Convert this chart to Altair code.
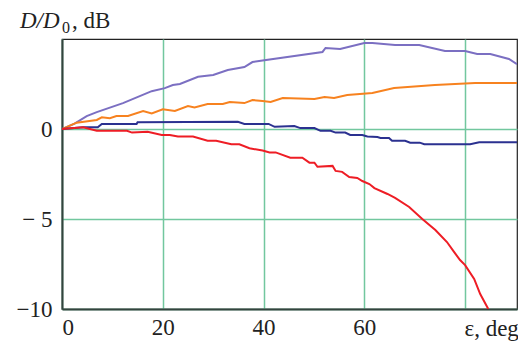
import altair as alt
import pandas as pd

purple_x = [0, 2.5, 4.9, 6.9, 12.1, 17.8, 20.4, 22, 23.4, 27, 30, 32.9, 36.2, 37.8, 39.8, 51.7, 52.3, 55.2, 60, 61.6, 66.1, 70.9, 76, 80, 82.4, 85, 88.7, 90.3]
purple_y = [0, 0.3, 0.72, 0.94, 1.44, 2.1, 2.27, 2.44, 2.5, 2.9, 3.0, 3.28, 3.44, 3.72, 3.8, 4.28, 4.5, 4.44, 4.78, 4.78, 4.67, 4.67, 4.33, 4.33, 4.17, 4.17, 3.89, 3.6]

orange_x = [0, 2.9, 6.9, 7.9, 9.5, 10.8, 13.1, 16.1, 17.8, 20, 22.4, 25, 26.3, 28.9, 31.9, 33.3, 36.2, 37.8, 39.8, 41.4, 43.8, 50.1, 52.1, 54, 56.6, 61.6, 65.9, 74, 82, 90.3]
orange_y = [0, 0.35, 0.5, 0.65, 0.6, 0.72, 0.72, 1.0, 0.87, 1.1, 1.0, 1.28, 1.2, 1.39, 1.39, 1.5, 1.44, 1.61, 1.56, 1.5, 1.72, 1.67, 1.78, 1.72, 1.89, 2.0, 2.28, 2.44, 2.55, 2.55]

navy_x = [0, 4.2, 7.1, 7.9, 14.8, 15, 34.9, 36.2, 41, 42.2, 46.1, 47.3, 50.1, 51.3, 53.3, 54.3, 56.2, 57.2, 59.6, 60.6, 62.6, 63.2, 64.9, 65.5, 68.1, 69.1, 71, 71.9, 81, 82.8, 90.3]
navy_y = [0, 0.1, 0.1, 0.28, 0.28, 0.38, 0.4, 0.28, 0.28, 0.12, 0.17, 0.05, 0.05, -0.1, -0.1, -0.2, -0.2, -0.33, -0.33, -0.42, -0.45, -0.5, -0.5, -0.65, -0.65, -0.76, -0.76, -0.85, -0.85, -0.74, -0.74]

red_x = [0, 4.2, 6.9, 12.9, 13.9, 17, 19.8, 21.4, 23, 26, 28.9, 30.6, 33.6, 35.2, 37.2, 39.8, 41.2, 42.4, 45.3, 47.7, 49.1, 50.1, 50.7, 53.7, 54.3, 55.6, 57, 58.6, 59.6, 61, 62, 64.6, 66.1, 68.9, 71.5, 74.1, 76.4, 77.8, 79, 80, 81.8, 83, 84.6]
red_y = [0, 0.1, -0.1, -0.1, -0.2, -0.15, -0.33, -0.33, -0.42, -0.42, -0.65, -0.65, -0.85, -0.85, -1.07, -1.2, -1.3, -1.3, -1.6, -1.6, -1.87, -1.87, -2.1, -2.05, -2.33, -2.38, -2.67, -2.72, -2.89, -3.06, -3.28, -3.61, -3.83, -4.33, -5.0, -5.61, -6.28, -6.83, -7.28, -7.56, -8.33, -9.17, -10.0]

series_names = ["purple", "orange", "navy", "red"]
series_colors = ["#7b6fc2", "#f7821f", "#2b3190", "#ee1d25"]

rows = []
for name, xs, ys in zip(series_names, [purple_x, orange_x, navy_x, red_x], [purple_y, orange_y, navy_y, red_y]):
    for i, (xv, yv) in enumerate(zip(xs, ys)):
        rows.append({"series": name, "eps": xv, "d": yv, "idx": i})
df = pd.DataFrame(rows)

FONT = "Liberation Serif"
GRID = "#72c79e"
TXT = "#222"

x_enc = alt.X("eps:Q", scale=alt.Scale(domain=[0, 90.3], nice=False),
              axis=alt.Axis(values=[0, 20, 40, 60, 80],
                            labelExpr="datum.value == 80 ? '' : datum.label",
                            title="ε, deg", titleX=402, titleY=26, titleAlign="left",
                            titleBaseline="alphabetic", titleFont=FONT, titleFontSize=23,
                            titleFontWeight="normal", titleColor=TXT,
                            grid=True, gridColor=GRID, gridWidth=1.5,
                            ticks=False, tickSize=0, labelPadding=7,
                            labelFont=FONT, labelFontSize=23, labelColor=TXT,
                            domainColor="#34443e", domainWidth=2))
y_enc = alt.Y("d:Q", scale=alt.Scale(domain=[-10, 5], nice=False),
              axis=alt.Axis(values=[-10, -5, 0],
                            labelExpr="datum.value == 0 ? '0' : (datum.value == -5 ? '\u2212 5' : '\u221210')",
                            title=None,
                            grid=True, gridColor=GRID, gridWidth=1.5,
                            ticks=False, tickSize=0, labelPadding=10,
                            labelFont=FONT, labelFontSize=23, labelColor=TXT,
                            domainColor="#34443e", domainWidth=2))

lines = alt.Chart(df).mark_line(strokeWidth=2, clip=True).encode(
    x=x_enc, y=y_enc,
    color=alt.Color("series:N", scale=alt.Scale(domain=series_names, range=series_colors), legend=None),
    order="idx:Q",
)

one = alt.Data(values=[{"a": 1}])
t1 = alt.Chart(one).mark_text(text="D/D", font=FONT, fontSize=23, fontStyle="italic",
                              align="left", baseline="alphabetic", color=TXT).encode(
    x=alt.value(-42), y=alt.value(-11))
t2 = alt.Chart(one).mark_text(text="0", font=FONT, fontSize=16,
                              align="left", baseline="alphabetic", color=TXT).encode(
    x=alt.value(0), y=alt.value(-6))
t3 = alt.Chart(one).mark_text(text=", dB", font=FONT, fontSize=23,
                              align="left", baseline="alphabetic", color=TXT).encode(
    x=alt.value(10), y=alt.value(-11))

chart = alt.layer(lines, t1, t2, t3).properties(
    width=455, height=270,
    autosize=alt.AutoSizeParams(type="none"),
    padding={"left": 54, "top": 31, "right": 1, "bottom": 32},
).configure_view(stroke="#222", strokeWidth=1.2)

chart.save("out.html", embed_options={"renderer": "svg", "actions": False})
